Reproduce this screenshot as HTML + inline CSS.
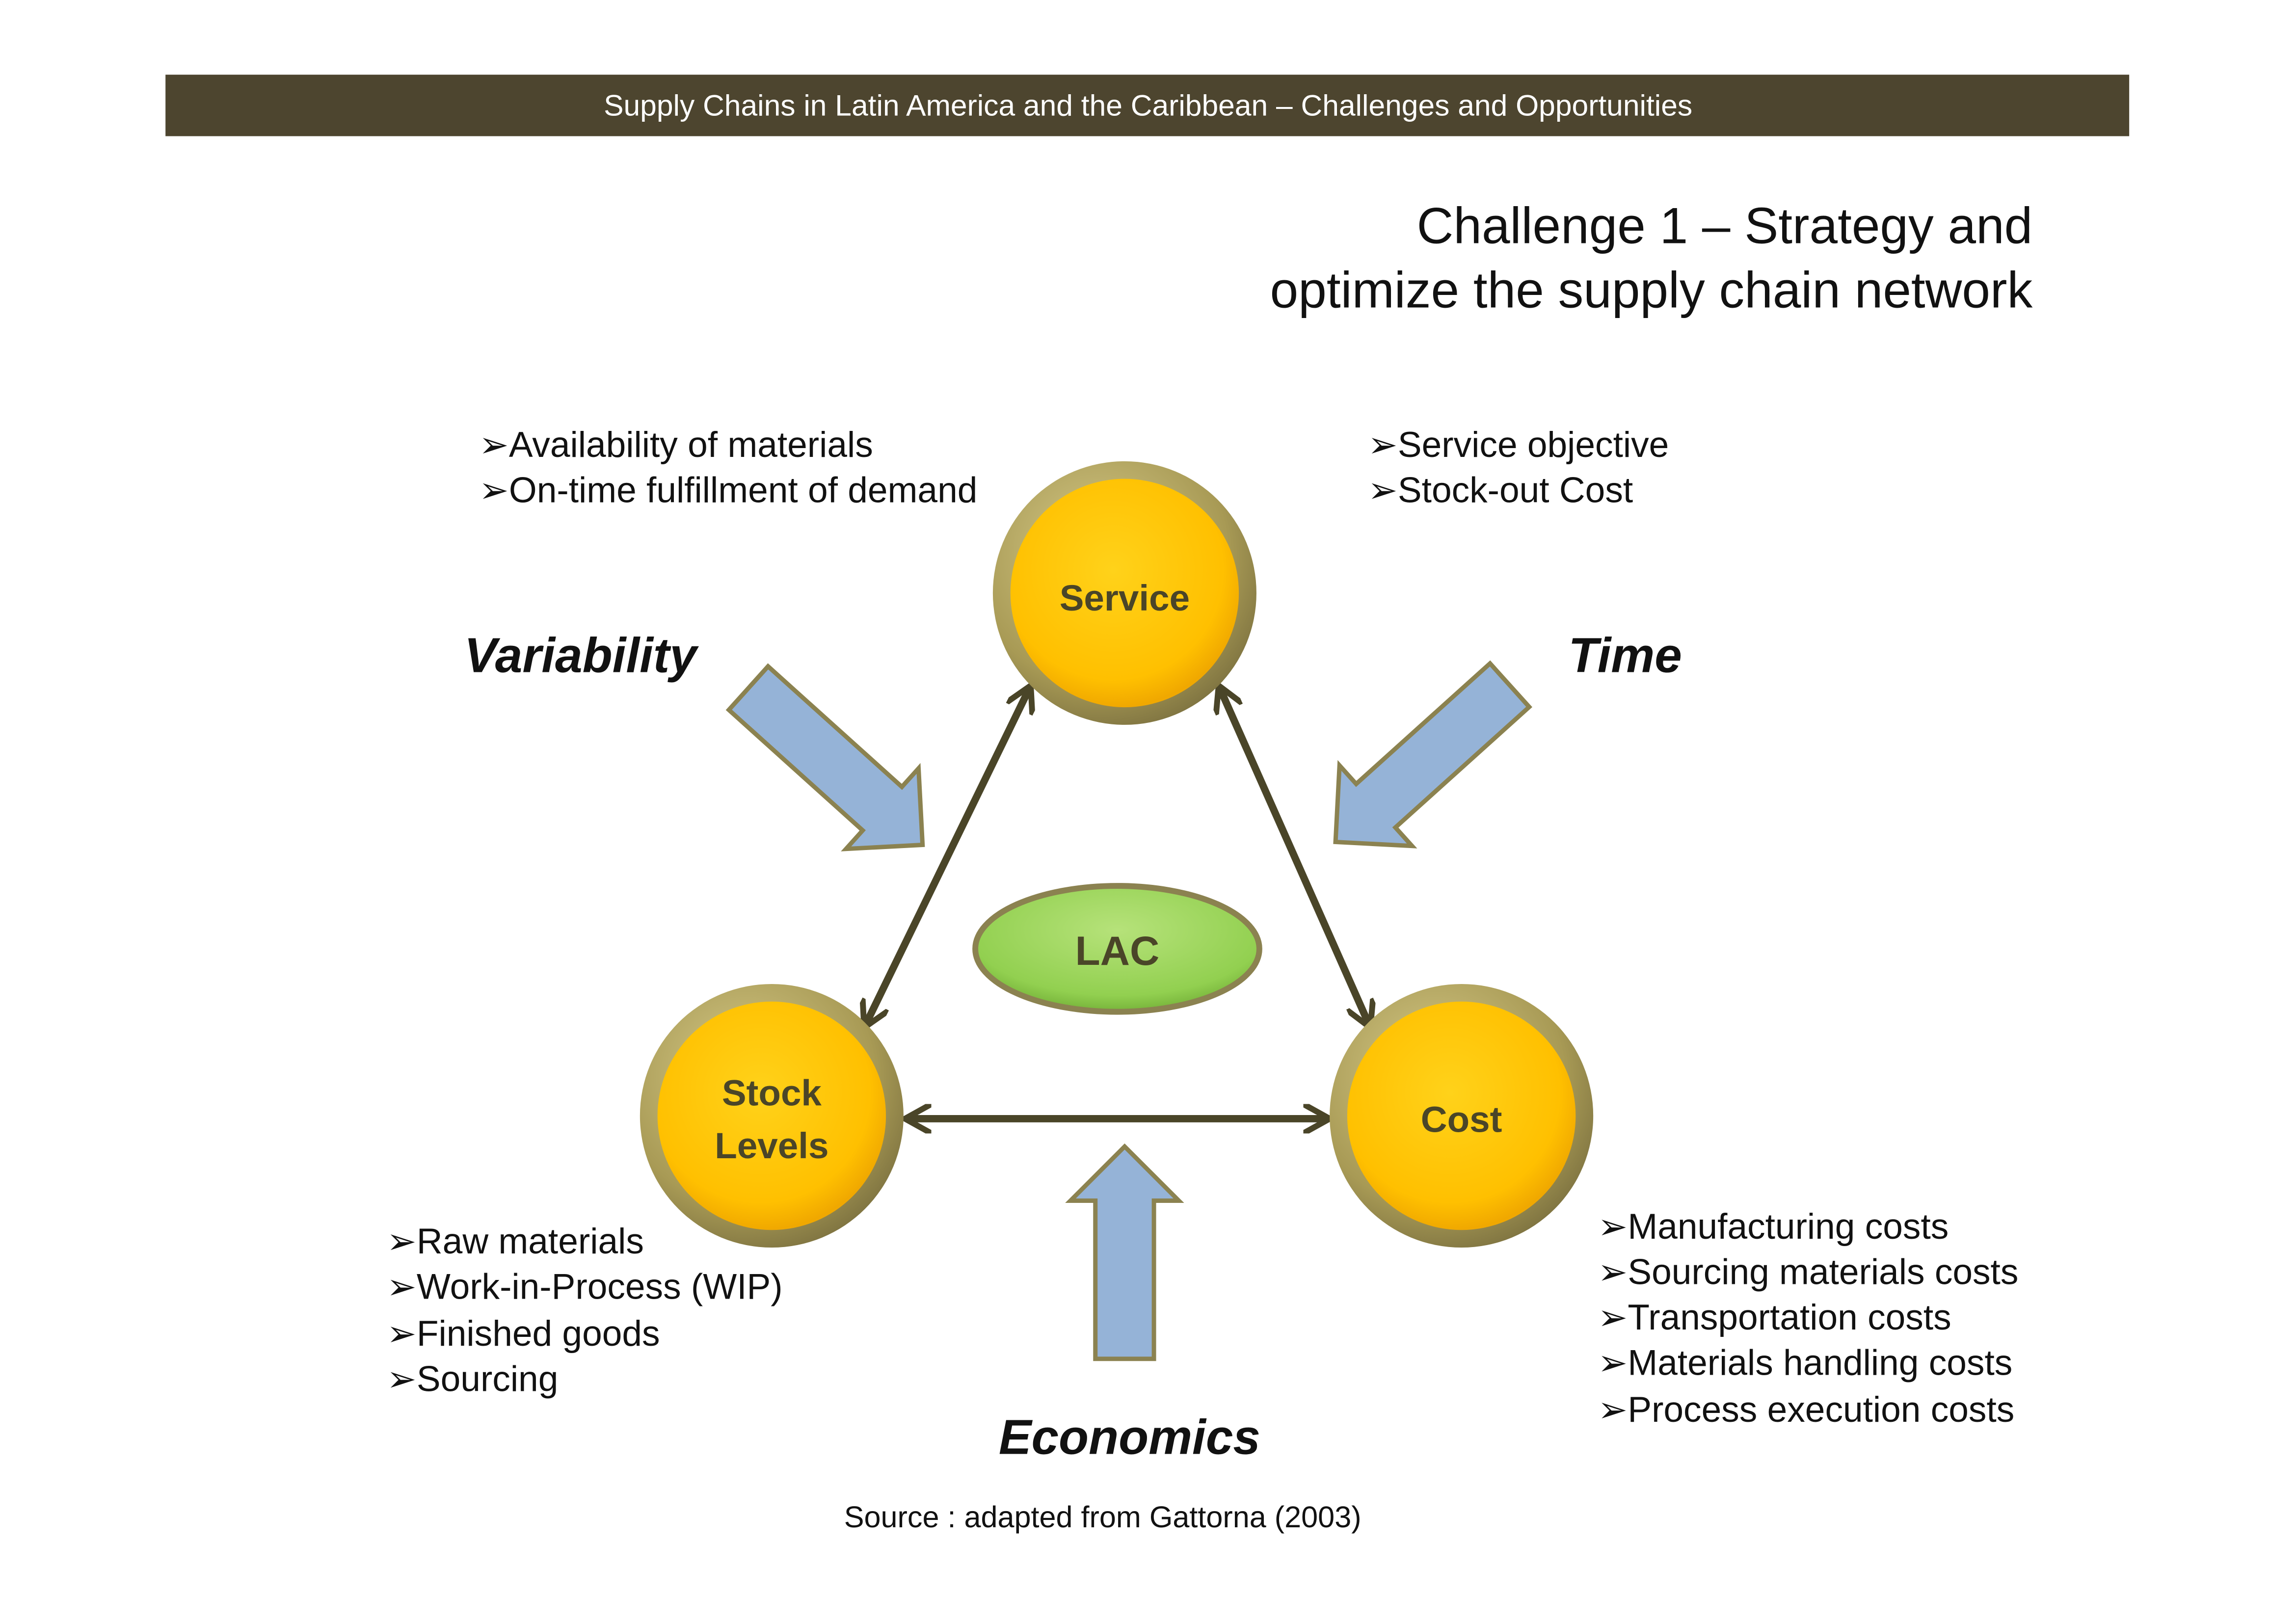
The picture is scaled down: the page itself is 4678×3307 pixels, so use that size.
<!DOCTYPE html>
<html><head><meta charset="utf-8"><style>
html,body{margin:0;padding:0;background:#fff;}
svg{display:block;}
text{font-family:"Liberation Sans",sans-serif;}
</style></head><body>
<svg width="4678" height="3307" viewBox="0 0 1567.9 1108.4" xmlns="http://www.w3.org/2000/svg">
<defs>
<radialGradient id="yel" cx="45%" cy="40%" r="60%">
<stop offset="0" stop-color="#ffd21a"/><stop offset="0.8" stop-color="#ffc000"/><stop offset="1" stop-color="#f0a800"/></radialGradient>
<radialGradient id="ring" cx="40%" cy="35%" r="70%">
<stop offset="0" stop-color="#d8cc8a"/><stop offset="0.7" stop-color="#a89a55"/><stop offset="1" stop-color="#7d7240"/></radialGradient>
<radialGradient id="grn" cx="50%" cy="35%" r="65%">
<stop offset="0" stop-color="#b6e27a"/><stop offset="0.8" stop-color="#92d050"/><stop offset="1" stop-color="#76b33a"/></radialGradient>
<marker id="ah" viewBox="0 0 10 10" refX="8" refY="5" markerWidth="4" markerHeight="4" orient="auto-start-reverse">
<path d="M0,0 L9,5 L0,10" fill="none" stroke="#4a4528" stroke-width="2"/></marker>
</defs>
<rect x="113" y="51" width="1341" height="42" fill="#4d452f"/>
<text x="784" y="79" font-size="20.3" fill="#fff" text-anchor="middle">Supply Chains in Latin America and the Caribbean – Challenges  and Opportunities</text>
<text x="1388" y="166" font-size="34.7" fill="#111" text-anchor="end">Challenge  1 – Strategy and</text>
<text x="1388" y="210" font-size="34.7" fill="#111" text-anchor="end">optimize the supply chain network</text>

<g font-size="24.5" fill="#111">
<text x="327" y="312">➢Availability of materials</text>
<text x="327" y="343">➢On-time fulfillment of demand</text>
<text x="934" y="312">➢Service objective</text>
<text x="934" y="343">➢Stock-out Cost</text>
<text x="264" y="856">➢Raw materials</text>
<text x="264" y="887">➢Work-in-Process (WIP)</text>
<text x="264" y="919">➢Finished goods</text>
<text x="264" y="950">➢Sourcing</text>
<text x="1091" y="846">➢Manufacturing costs</text>
<text x="1091" y="877">➢Sourcing materials costs</text>
<text x="1091" y="908">➢Transportation costs</text>
<text x="1091" y="939">➢Materials handling costs</text>
<text x="1091" y="971">➢Process execution costs</text>
</g>

<g font-size="33.5" font-weight="bold" font-style="italic" fill="#111">
<text x="317" y="459">Variability</text>
<text x="1071" y="459">Time</text>
<text x="682" y="993">Economics</text>
</g>
<text x="753" y="1043" font-size="20.5" fill="#111" text-anchor="middle">Source : adapted from Gattorna (2003)</text>

<g fill="#95b3d7" stroke="#8b8250" stroke-width="3" stroke-linejoin="miter">
<polygon points="0,0 37,37 20,37 20,145 -20,145 -20,37 -37,37" transform="translate(768,783)"/>
<polygon points="0,0 37,37 20,37 20,160 -20,160 -20,37 -37,37" transform="translate(630,577) rotate(132)"/>
<polygon points="0,0 37,37 20,37 20,160 -20,160 -20,37 -37,37" transform="translate(912,575) rotate(-132)"/>
</g>

<g stroke="#4a4528" stroke-width="5" fill="none" marker-start="url(#ah)" marker-end="url(#ah)">
<line x1="703" y1="470" x2="591" y2="700"/>
<line x1="833" y1="470" x2="935" y2="700"/>
<line x1="620" y1="764" x2="906" y2="764"/>
</g>

<g>
<circle cx="768" cy="405" r="90" fill="url(#ring)"/>
<circle cx="768" cy="405" r="78" fill="url(#yel)"/>
<circle cx="527" cy="762" r="90" fill="url(#ring)"/>
<circle cx="527" cy="762" r="78" fill="url(#yel)"/>
<circle cx="998" cy="762" r="90" fill="url(#ring)"/>
<circle cx="998" cy="762" r="78" fill="url(#yel)"/>
<ellipse cx="763" cy="648" rx="97" ry="43" fill="url(#grn)" stroke="#8b8250" stroke-width="4"/>
</g>
<g font-size="25" font-weight="bold" fill="#4a4528" text-anchor="middle">
<text x="768" y="417">Service</text>
<text x="527" y="755">Stock</text>
<text x="527" y="791">Levels</text>
<text x="998" y="773">Cost</text>
<text x="763" y="659" font-size="28">LAC</text>
</g>
</svg>
</body></html>
